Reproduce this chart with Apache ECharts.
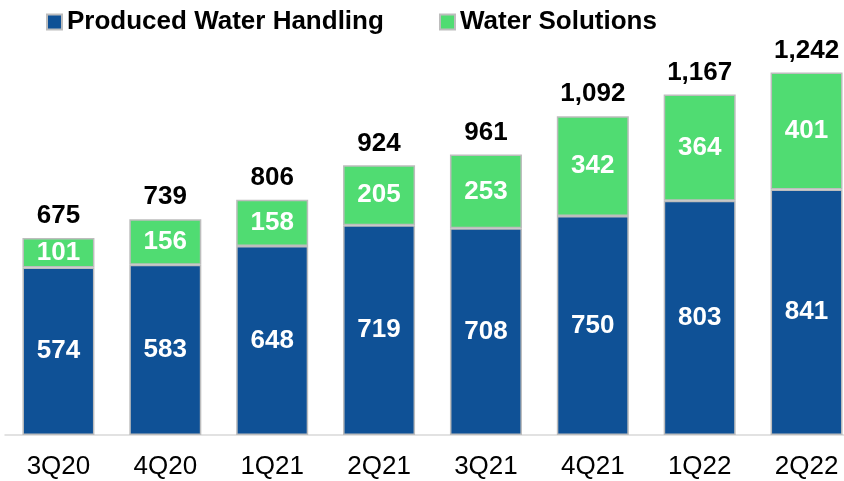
<!DOCTYPE html>
<html>
<head>
<meta charset="utf-8">
<script src="https://cdn.jsdelivr.net/npm/echarts@6/dist/echarts.min.js"></script>
<style>
  html, body { margin: 0; padding: 0; background: #fff; }
  #chart { width: 844px; height: 481px; }
</style>
</head>
<body>
<div id="chart"></div>
<script>
// Quarterly volumes by business line
const quarters = ['3Q20', '4Q20', '1Q21', '2Q21', '3Q21', '4Q21', '1Q22', '2Q22'];
const producedWater = [574, 583, 648, 719, 708, 750, 803, 841];
const waterSolutions = [101, 156, 158, 205, 253, 342, 364, 401];
const totals = [675, 739, 806, 924, 961, 1092, 1167, 1242];

const BLUE = '#0F5196';
const GREEN = '#50DC72';
const EDGE = '#BDBDBD';
const FONT = '"Liberation Sans", Arial, sans-serif';

const chart = echarts.init(document.getElementById('chart'));

const insideLabel = {
  show: true,
  position: 'inside',
  color: '#fff',
  fontFamily: FONT,
  fontWeight: 'bold',
  fontSize: 26
};

const legendText = {
  color: '#000',
  fontFamily: FONT,
  fontWeight: 'bold',
  fontSize: 26
};

chart.setOption({
  animation: false,
  grid: { left: 5, width: 855, top: 41, bottom: 46, outerBoundsMode: 'none', containLabel: false },
  legend: [
    {
      data: ['Produced Water Handling'],
      left: 41, top: 4,
      itemWidth: 15, itemHeight: 15, itemGap: 6, icon: 'rect',
      textStyle: legendText
    },
    {
      data: ['Water Solutions'],
      left: 434, top: 4,
      itemWidth: 15, itemHeight: 15, icon: 'rect',
      textStyle: legendText
    }
  ],
  xAxis: {
    type: 'category',
    data: quarters,
    axisLine: { lineStyle: { color: '#D9D9D9', width: 1.5 } },
    axisTick: { show: false },
    axisLabel: {
      color: '#000', fontFamily: FONT, fontSize: 26, margin: 19
    }
  },
  yAxis: {
    type: 'value',
    min: 0, max: 1350,
    show: false,
    splitLine: { show: false }
  },
  series: [
    {
      name: 'Produced Water Handling',
      type: 'bar',
      stack: 'total',
      barWidth: 72,
      data: producedWater,
      itemStyle: { color: BLUE, borderColor: EDGE, borderWidth: 1.5 },
      label: insideLabel
    },
    {
      name: 'Water Solutions',
      type: 'bar',
      stack: 'total',
      barWidth: 72,
      data: waterSolutions,
      itemStyle: { color: GREEN, borderColor: EDGE, borderWidth: 1.5 },
      label: insideLabel
    },
    {
      name: 'Total',
      type: 'scatter',
      data: totals,
      symbolSize: 0,
      silent: true,
      itemStyle: { opacity: 1 },
      label: {
        show: true,
        position: 'top',
        distance: 9,
        color: '#000',
        opacity: 1,
        fontFamily: FONT,
        fontWeight: 'bold',
        fontSize: 26,
        formatter: p => p.value.toLocaleString('en-US')
      }
    }
  ]
});
</script>
</body>
</html>
